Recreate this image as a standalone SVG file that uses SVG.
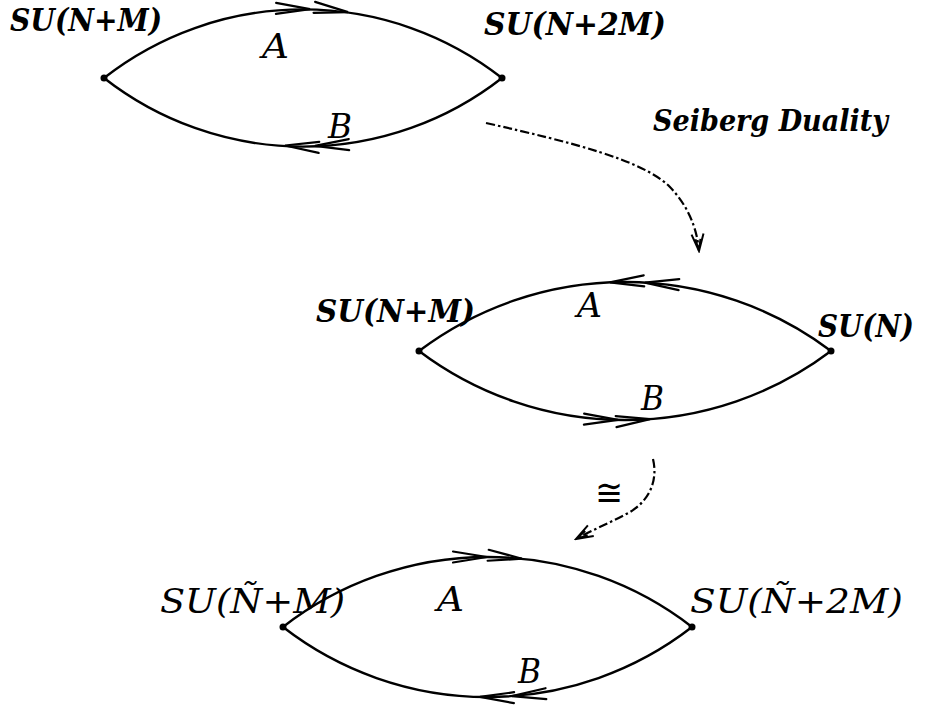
<svg xmlns="http://www.w3.org/2000/svg" xmlns:xlink="http://www.w3.org/1999/xlink" width="925" height="706" viewBox="0 0 925 706">
<style>
  .edge { fill: none; stroke: #000; stroke-width: 2.4; stroke-linecap: round; }
  .chev { fill: none; stroke: #000; stroke-width: 2.2; stroke-linejoin: miter; stroke-linecap: round; }
  .flow { fill: none; stroke: #000; stroke-width: 2.2; stroke-dasharray: 9 3 2.5 3; }
  .dot { fill: #000; }
  .lbl { font-family: "DejaVu Serif", "Liberation Serif", serif; font-style: italic; fill: #000; }
  .b { font-weight: bold; }
</style>
<defs>
  <path id="chev" class="chev" d="M-34,-5.5 L0,0 L-34,5.5"/>
  <marker id="vhead" viewBox="-18 -8 20 16" refX="0" refY="0" markerWidth="20" markerHeight="16" markerUnits="userSpaceOnUse" orient="auto">
    <path d="M-17,-6 L0,0 L-17,6 M-12,-2.5 L0,0 L-12,2.5" fill="none" stroke="#000" stroke-width="2"/>
  </marker>
</defs>
<rect width="925" height="706" fill="#fff"/>

<g id="connectors">
  <!-- diagram 1 -->
  <path class="edge" d="M104,78 A323,323 0 0 1 502,78"/>
  <path class="edge" d="M104,78 A323,323 0 0 0 502,78"/>
  <use xlink:href="#chev" transform="translate(310,9.1) rotate(1.2)"/>
  <use xlink:href="#chev" transform="translate(348,12.1) rotate(8)"/>
  <use xlink:href="#chev" transform="translate(285,145.5) rotate(183.2)"/>
  <use xlink:href="#chev" transform="translate(315,145.8) rotate(177.9)"/>
  <!-- diagram 2 -->
  <path class="edge" d="M419,351 A342,342 0 0 1 831,351"/>
  <path class="edge" d="M419,351 A342,342 0 0 0 831,351"/>
  <use xlink:href="#chev" transform="translate(610,282.3) rotate(177.5)"/>
  <use xlink:href="#chev" transform="translate(645,282.6) rotate(183.4)"/>
  <use xlink:href="#chev" transform="translate(618,419.9) rotate(1.2)"/>
  <use xlink:href="#chev" transform="translate(650,419.1) rotate(-4.2)"/>
  <!-- diagram 3 -->
  <path class="edge" d="M283,627 A333.7,333.7 0 0 1 692,627"/>
  <path class="edge" d="M283,627 A333.7,333.7 0 0 0 692,627"/>
  <use xlink:href="#chev" transform="translate(487,557) rotate(0)"/>
  <use xlink:href="#chev" transform="translate(522,558.7) rotate(5.8)"/>
  <use xlink:href="#chev" transform="translate(480,696.9) rotate(181.3)"/>
  <use xlink:href="#chev" transform="translate(512,696.1) rotate(176)"/>
  <!-- duality maps -->
  <path class="flow" marker-end="url(#vhead)" d="M486,123 C575,143 640,160 668,185 C688,205 697,228 699,251"/>
  <path class="flow" marker-end="url(#vhead)" d="M653,459 C658,480 650,500 630,512 C612,522 592,530 576,539"/>
</g>

<g id="edge-labels">
  <text class="lbl" x="262" y="58" font-size="34" textLength="27" lengthAdjust="spacingAndGlyphs">A</text>
  <text class="lbl" x="328" y="138" font-size="34" textLength="24" lengthAdjust="spacingAndGlyphs">B</text>
  <text class="lbl" x="577" y="317" font-size="33" textLength="25" lengthAdjust="spacingAndGlyphs">A</text>
  <text class="lbl" x="641" y="410" font-size="33" textLength="23" lengthAdjust="spacingAndGlyphs">B</text>
  <text class="lbl" x="437" y="611" font-size="34" textLength="27" lengthAdjust="spacingAndGlyphs">A</text>
  <text class="lbl" x="518" y="683" font-size="34" textLength="23" lengthAdjust="spacingAndGlyphs">B</text>
</g>

<g id="annotations">
  <text class="lbl b" x="653" y="131" font-size="30" textLength="235" lengthAdjust="spacingAndGlyphs">Seiberg Duality</text>
  <text x="595" y="505" font-family="DejaVu Sans, sans-serif" font-size="36" textLength="28" lengthAdjust="spacingAndGlyphs">≅</text>
</g>

<g id="d1-left">
  <circle class="dot" cx="104" cy="78" r="3.5"/>
  <text class="lbl b" x="10" y="31" font-size="31" textLength="152" lengthAdjust="spacingAndGlyphs">SU(N+M)</text>
</g>
<g id="d1-right">
  <circle class="dot" cx="502" cy="78" r="3.5"/>
  <text class="lbl b" x="484" y="35" font-size="31" textLength="182" lengthAdjust="spacingAndGlyphs">SU(N+2M)</text>
</g>
<g id="d2-left">
  <circle class="dot" cx="419" cy="351" r="3.5"/>
  <text class="lbl b" x="316" y="322" font-size="31" textLength="159" lengthAdjust="spacingAndGlyphs">SU(N+M)</text>
</g>
<g id="d2-right">
  <circle class="dot" cx="831" cy="351" r="3.5"/>
  <text class="lbl b" x="818" y="337" font-size="31" textLength="96" lengthAdjust="spacingAndGlyphs">SU(N)</text>
</g>
<g id="d3-left">
  <circle class="dot" cx="283" cy="627" r="3.5"/>
  <text class="lbl" x="160" y="613" font-size="34" textLength="185" lengthAdjust="spacingAndGlyphs">SU(Ñ+M)</text>
</g>
<g id="d3-right">
  <circle class="dot" cx="692" cy="627" r="3.5"/>
  <text class="lbl" x="690" y="613" font-size="34" textLength="213" lengthAdjust="spacingAndGlyphs">SU(Ñ+2M)</text>
</g>
</svg>
